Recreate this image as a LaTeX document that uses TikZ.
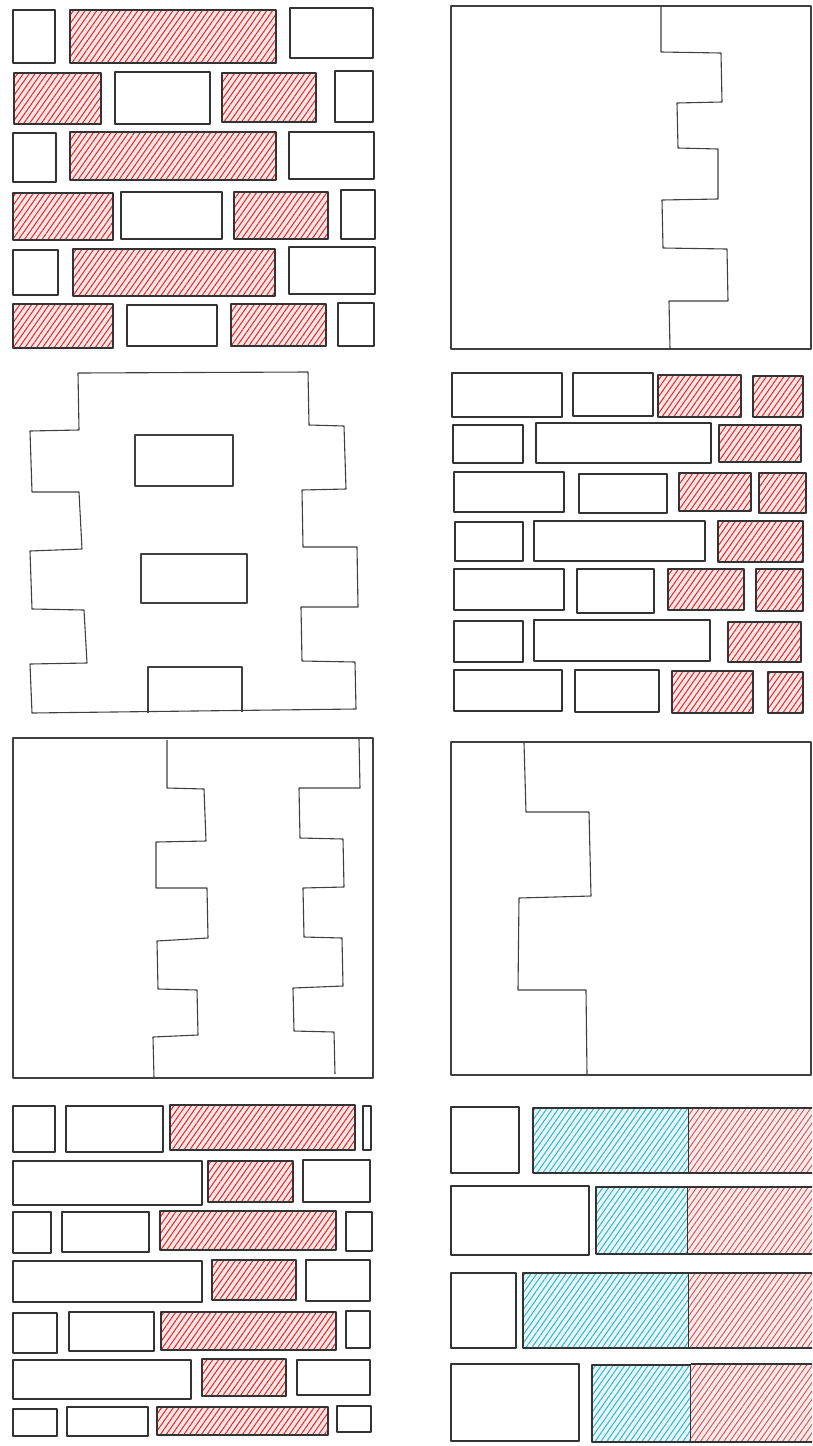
\documentclass[tikz,border=0pt]{standalone}
\usepackage{tikz}
\usetikzlibrary{patterns.meta}
\definecolor{hatchred}{RGB}{226,40,40}
\definecolor{softred}{RGB}{212,80,80}
\definecolor{hatchcyan}{RGB}{50,182,208}
\begin{document}
\begin{tikzpicture}[x=1pt,y=-1pt,
 brick/.style={draw=black!80,line width=1.2pt,line join=round},
 redbrick/.style={brick,preaction={fill=hatchred!12},
 pattern={Lines[angle=55,distance=4.8pt,line width=1pt]},pattern color=hatchred},
 cyanbrick/.style={brick,preaction={fill=hatchcyan!12},
 pattern={Lines[angle=55,distance=4.8pt,line width=1pt]},pattern color=hatchcyan},
 pinkbrick/.style={preaction={fill=softred!12},
 pattern={Lines[angle=55,distance=4.8pt,line width=0.9pt]},pattern color=softred},
 outline/.style={draw=black!75,line width=1.1pt,line join=round}]
\useasboundingbox (0,0) rectangle (812,1446);
\clip (0,0) rectangle (812,1446);
% panel 1
\draw[brick] (13,10) rectangle (55,63);
\draw[redbrick] (70,10) rectangle (276,63);
\draw[brick] (290,8) rectangle (373,58);
\draw[redbrick] (14,73) rectangle (101,124);
\draw[brick] (115,72) rectangle (210,124);
\draw[redbrick] (222,73) rectangle (316,122);
\draw[brick] (335,71) rectangle (373,122);
\draw[brick] (13,133) rectangle (56,182);
\draw[redbrick] (70,132) rectangle (276,180);
\draw[brick] (289,132) rectangle (374,179);
\draw[redbrick] (13,193) rectangle (113,240);
\draw[brick] (121,192) rectangle (222,239);
\draw[redbrick] (234,192) rectangle (328,239);
\draw[brick] (341,190) rectangle (375,239);
\draw[brick] (13,250) rectangle (58,295);
\draw[redbrick] (73,249) rectangle (275,296);
\draw[brick] (289,247) rectangle (375,294);
\draw[redbrick] (13,304) rectangle (113,348);
\draw[brick] (127,305) rectangle (217,346);
\draw[redbrick] (231,304) rectangle (326,346);
\draw[brick] (338,303) rectangle (374,346);
% panel 2
\draw[outline] (451,6) rectangle (811,349);
\draw[outline] (661,6) -- (661,52) -- (721,53) -- (722,102) -- (677,103) -- (678,148)
 -- (718,149) -- (718,199) -- (662,200) -- (663,248) -- (727,249) -- (728,301)
 -- (669,301) -- (670,349);
% panel 3
\draw[outline] (78,373) -- (308,372) -- (309,425) -- (344,426) -- (346,489) -- (302,490)
 -- (303,547) -- (357,547) -- (358,607) -- (301,607) -- (302,661) -- (355,662)
 -- (356,709) -- (32,713) -- (30,664) -- (87,663) -- (84,610) -- (32,609) -- (30,551)
 -- (82,549) -- (79,492) -- (32,492) -- (30,431) -- (79,430) -- cycle;
\draw[outline] (135,435) rectangle (233,486);
\draw[outline] (141,554) rectangle (247,603);
\draw[outline] (148,713) -- (148,667) -- (242,667) -- (242,712);
% panel 4
\draw[brick] (452,373) rectangle (562,417);
\draw[brick] (573,373) rectangle (653,416);
\draw[redbrick] (658,375) rectangle (741,417);
\draw[redbrick] (753,376) rectangle (803,417);
\draw[brick] (453,425) rectangle (523,463);
\draw[brick] (536,423) rectangle (711,463);
\draw[redbrick] (719,425) rectangle (801,462);
\draw[brick] (454,472) rectangle (564,512);
\draw[brick] (579,474) rectangle (667,513);
\draw[redbrick] (679,473) rectangle (751,511);
\draw[redbrick] (759,473) rectangle (806,513);
\draw[brick] (455,522) rectangle (523,561);
\draw[brick] (534,521) rectangle (705,561);
\draw[redbrick] (718,521) rectangle (803,562);
\draw[brick] (454,569) rectangle (564,610);
\draw[brick] (577,569) rectangle (654,613);
\draw[redbrick] (668,569) rectangle (744,610);
\draw[redbrick] (756,569) rectangle (803,611);
\draw[brick] (454,621) rectangle (523,662);
\draw[brick] (534,620) rectangle (710,661);
\draw[redbrick] (728,622) rectangle (801,662);
\draw[brick] (454,670) rectangle (562,711);
\draw[brick] (575,670) rectangle (659,712);
\draw[redbrick] (672,671) rectangle (753,713);
\draw[redbrick] (768,672) rectangle (803,713);
% panel 5
\draw[outline] (13,738) rectangle (373,1078);
\draw[outline] (167,740) -- (167,788) -- (204,789) -- (206,841) -- (156,842) -- (156,888)
 -- (207,888) -- (208,938) -- (157,941) -- (158,989) -- (197,990) -- (198,1035)
 -- (153,1037) -- (154,1078);
\draw[outline] (359,738) -- (360,788) -- (299,788) -- (300,838) -- (343,839) -- (344,887)
 -- (303,888) -- (304,937) -- (342,938) -- (343,986) -- (293,988) -- (294,1031)
 -- (334,1032) -- (335,1074);
% panel 6
\draw[outline] (451,742) rectangle (811,1075);
\draw[outline] (524,743) -- (526,812) -- (589,812) -- (591,896) -- (519,898) -- (518,990)
 -- (586,990) -- (587,1074);
% panel 7
\draw[brick] (13,1106) rectangle (55,1152);
\draw[brick] (66,1106) rectangle (163,1152);
\draw[redbrick] (170,1105) rectangle (355,1150);
\draw[brick] (363,1106) rectangle (371,1150);
\draw[brick] (13,1161) rectangle (202,1205);
\draw[redbrick] (208,1161) rectangle (293,1202);
\draw[brick] (303,1160) rectangle (370,1202);
\draw[brick] (13,1212) rectangle (51,1253);
\draw[brick] (62,1212) rectangle (149,1252);
\draw[redbrick] (160,1211) rectangle (336,1250);
\draw[brick] (346,1212) rectangle (372,1251);
\draw[brick] (13,1261) rectangle (202,1302);
\draw[redbrick] (212,1260) rectangle (296,1300);
\draw[brick] (306,1260) rectangle (370,1301);
\draw[brick] (13,1313) rectangle (57,1353);
\draw[brick] (69,1312) rectangle (154,1351);
\draw[redbrick] (161,1312) rectangle (336,1350);
\draw[brick] (346,1311) rectangle (370,1348);
\draw[brick] (13,1360) rectangle (191,1399);
\draw[redbrick] (202,1359) rectangle (286,1396);
\draw[brick] (297,1360) rectangle (370,1395);
\draw[brick] (13,1409) rectangle (57,1436);
\draw[brick] (67,1407) rectangle (148,1436);
\draw[redbrick] (157,1407) rectangle (328,1435);
\draw[brick] (337,1406) rectangle (371,1432);
% panel 8
\draw[brick] (451,1107) rectangle (519,1173);
\draw[cyanbrick] (533,1108) rectangle (689,1173);
\fill[pinkbrick] (689,1108) rectangle (816,1173);
\draw[brick] (689,1108) -- (816,1108) (689,1173) -- (816,1173);
\draw[brick] (451,1186) rectangle (589,1255);
\draw[cyanbrick] (596,1187) rectangle (688,1254);
\fill[pinkbrick] (688,1187) rectangle (816,1254);
\draw[brick] (688,1187) -- (816,1187) (688,1254) -- (816,1254);
\draw[brick] (451,1273) rectangle (516,1348);
\draw[cyanbrick] (523,1273) rectangle (689,1348);
\fill[pinkbrick] (689,1273) rectangle (816,1348);
\draw[brick] (689,1273) -- (816,1273) (689,1348) -- (816,1348);
\draw[brick] (451,1364) rectangle (579,1441);
\draw[cyanbrick] (592,1365) rectangle (691,1442);
\fill[pinkbrick] (691,1364) rectangle (816,1442);
\draw[brick] (691,1364) -- (816,1364) (691,1442) -- (816,1442);
\end{tikzpicture}
\end{document}
